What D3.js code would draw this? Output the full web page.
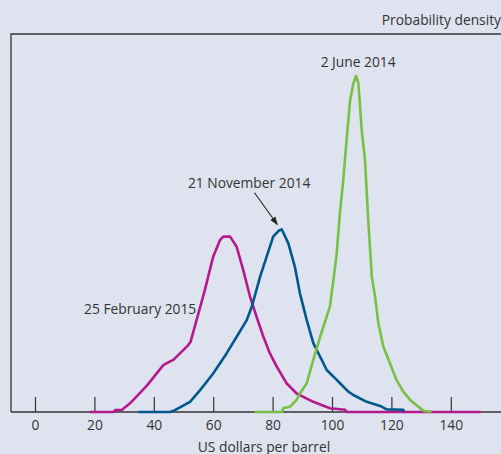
<!DOCTYPE html>
<html>
<head>
<meta charset="utf-8">
<script src="https://cdn.jsdelivr.net/npm/d3@7"></script>
<style>
  html, body { margin: 0; padding: 0; background: #dfe3ef; }
  svg { display: block; }
  text { font-family: "Open Sans", "DejaVu Sans", sans-serif; fill: #333; }
</style>
</head>
<body>
<svg id="chart" width="501" height="454"></svg>
<script>
// ---- data (US dollars per barrel, probability density in arbitrary units) ----
const xTicks = [0, 20, 40, 60, 80, 100, 120, 140];
const xTitle = "US dollars per barrel";
const yTitle = "Probability density";

const seriesNames = ["25 February 2015", "21 November 2014", "2 June 2014"];
const seriesColors = ["#b4198e", "#00588c", "#77c043"];

const feb2015 = [
  [18.5,0],[26.4,0],[27,0.5],[29.2,0.5],[32,2.3],[37.6,6.9],[43.2,12.4],[45.5,13.4],[46.6,13.8],
  [48.8,15.5],[51.6,17.7],[52.4,18.6],[54.4,24.3],[57.2,32.3],[60,41.1],[62.3,45.5],[63.4,46.4],
  [65.7,46.4],[67.9,43.7],[70.1,37.6],[72.4,30.5],[74.6,25.2],[76.9,19.9],[79.1,15.5],[81.4,12.0],
  [84.7,7.6],[88.1,4.9],[93.7,2.7],[99.3,1.0],[104.4,0.6],[105,0],[150,0]
];
const nov2014 = [
  [34.8,0],[45.5,0],[47.1,0.5],[48.8,1.2],[52.2,2.7],[55.6,5.8],[60,10.2],[64.5,15.5],[67.9,19.9],
  [71.3,24.3],[73,27.9],[75.8,35.8],[78,41.1],[80.2,46.4],[82.1,48.0],[83.1,48.3],[85.3,44.6],
  [87.5,38.4],[89.2,31.4],[91.5,24.3],[93.7,18.2],[97.1,12.9],[98.2,11.1],[101.6,8.5],[102.7,7.6],
  [105.5,5.4],[107.2,4.5],[111.7,2.7],[116.2,1.6],[118.4,0.7],[124,0.6],[124.2,0]
];
const jun2014 = [
  [73.9,0],[83.1,0],[83.6,1.0],[85.9,1.4],[88.1,3.2],[89.2,4.9],[91.5,7.6],[93.7,13.8],[96,19.9],
  [98.2,25.2],[99.3,27.9],[100.4,34.5],[101.6,42],[102.7,53],[103.8,61.4],[105,72.8],[106.1,82.5],
  [107.2,86.9],[108.1,88.9],[108.9,86.9],[110,74.6],[111.1,66.7],[112.2,50.8],[113.4,35.8],
  [114.5,30.5],[115.6,23.5],[117.3,17.3],[119.5,12.9],[121.7,8.5],[124,5.4],[126.3,3.2],
  [129.1,1.4],[130.8,0.3],[133.5,0]
];
const seriesData = [feb2015, nov2014, jun2014];

// label anchors: [x value, y value]
const labelAnchors = [[35.4, 26.0], [72.1, 59.2], [108.8, 91.2]];
const arrowFrom = [73.9, 58];
const arrowTo = [81.6, 49.6];

// ---- layout ----
const svg = d3.select("#chart");
const W = 501, H = 454;
const frameLeft = 11, frameTop = 34, baseY = 412;
const fs = 13.8;

const x = d3.scaleLinear().domain([0, 140]).range([35, 450.8]);
const y = d3.scaleLinear().domain([0, 100]).range([baseY, frameTop]);

// frame (left + top) and baseline
svg.append("path")
  .attr("d", `M${frameLeft},${baseY}V${frameTop}H${W + 2}`)
  .attr("fill", "none").attr("stroke", "#333").attr("stroke-width", 1.3);
svg.append("line")
  .attr("x1", frameLeft).attr("x2", W + 2).attr("y1", baseY).attr("y2", baseY)
  .attr("stroke", "#333").attr("stroke-width", 1.3);

// x axis
const xAxis = d3.axisBottom(x).tickValues(xTicks).tickSizeInner(-15).tickSizeOuter(0).tickPadding(8);
const gx = svg.append("g").attr("transform", `translate(0,${baseY})`).call(xAxis);
gx.select(".domain").remove();
gx.selectAll(".tick line").attr("stroke", "#333").attr("stroke-width", 1.2);
gx.selectAll(".tick text").attr("font-size", fs).attr("fill", "#333")
  .style("font-family", '"Open Sans", sans-serif');

svg.append("text").attr("x", 264).attr("y", 451.5).attr("text-anchor", "middle")
  .attr("font-size", fs).text(xTitle);
svg.append("text").attr("x", W).attr("y", 25).attr("text-anchor", "end")
  .attr("font-size", fs).text(yTitle);

// curves
const line = d3.line().x(d => x(d[0])).y(d => y(d[1]));
svg.append("g").selectAll("path").data(seriesData).join("path")
  .attr("d", line)
  .attr("fill", "none")
  .attr("stroke", (d, i) => seriesColors[i])
  .attr("stroke-width", 2.6)
  .attr("stroke-linejoin", "round");

// labels
svg.append("g").selectAll("text").data(seriesNames).join("text")
  .attr("x", (d, i) => x(labelAnchors[i][0]))
  .attr("y", (d, i) => y(labelAnchors[i][1]))
  .attr("text-anchor", "middle")
  .attr("font-size", fs)
  .text(d => d);

// arrow
svg.append("defs").append("marker")
  .attr("id", "arr").attr("viewBox", "0 0 10 10").attr("refX", 9).attr("refY", 5)
  .attr("markerWidth", 8).attr("markerHeight", 8).attr("orient", "auto")
  .append("path").attr("d", "M0,1.5L10,5L0,8.5Z").attr("fill", "#222");
svg.append("line")
  .attr("x1", x(arrowFrom[0])).attr("y1", y(arrowFrom[1]))
  .attr("x2", x(arrowTo[0])).attr("y2", y(arrowTo[1]))
  .attr("stroke", "#222").attr("stroke-width", 1.1)
  .attr("marker-end", "url(#arr)");
</script>
</body>
</html>
